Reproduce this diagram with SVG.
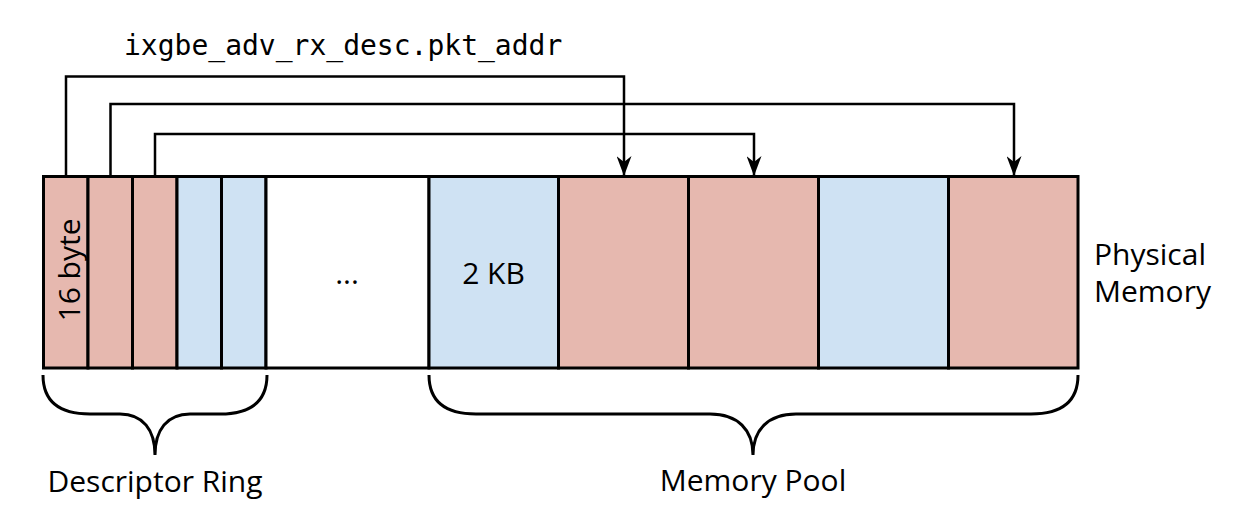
<svg xmlns="http://www.w3.org/2000/svg" width="1242" height="524" viewBox="0 0 1242 524">
<style>
.cell{stroke:#000;stroke-width:3}
.pink{fill:#e6b8af}
.blue{fill:#cfe2f3}
.white{fill:#fff}
.lbl{font-family:"Open Sans","Noto Sans","DejaVu Sans",sans-serif;font-size:30px;fill:#000}
.mono{font-family:"DejaVu Sans Mono","Liberation Mono",monospace;font-size:28px;fill:#000}
.conn{fill:none;stroke:#000;stroke-width:2.5}
.brace{fill:none;stroke:#000;stroke-width:3}
</style>
<defs>
<marker id="arr" viewBox="0 0 20 15" refX="20" refY="7.5" markerWidth="20" markerHeight="15" markerUnits="userSpaceOnUse" orient="auto">
<path d="M0,0 L20,7.5 L0,15 L6,7.5 Z" fill="#000"/>
</marker>
</defs>
<rect width="1242" height="524" fill="#fff"/>
<g id="descriptor-ring">
<rect id="desc1" class="cell pink" x="43.5" y="176.5" width="44.5" height="191.5"/>
<rect id="desc2" class="cell pink" x="88" y="176.5" width="44.5" height="191.5"/>
<rect id="desc3" class="cell pink" x="132.5" y="176.5" width="44.5" height="191.5"/>
<rect id="desc4" class="cell blue" x="177" y="176.5" width="44.5" height="191.5"/>
<rect id="desc5" class="cell blue" x="221.5" y="176.5" width="44.5" height="191.5"/>
<text class="lbl" transform="translate(79.5,270) rotate(-90)" text-anchor="middle">16 byte</text>
</g>
<g id="gap">
<rect class="cell white" x="266" y="176.5" width="163" height="191.5"/>
<text class="lbl" x="347" y="284" text-anchor="middle">...</text>
</g>
<g id="memory-pool">
<rect id="buf1" class="cell blue" x="429" y="176.5" width="129.5" height="191.5"/>
<rect id="buf2" class="cell pink" x="558.5" y="176.5" width="130" height="191.5"/>
<rect id="buf3" class="cell pink" x="688.5" y="176.5" width="130" height="191.5"/>
<rect id="buf4" class="cell blue" x="818.5" y="176.5" width="130" height="191.5"/>
<rect id="buf5" class="cell pink" x="948.5" y="176.5" width="129.5" height="191.5"/>
<text class="lbl" x="493.5" y="284" text-anchor="middle">2 KB</text>
</g>
<g id="connectors">
<path class="conn" d="M66,176 V76.5 H624 V176" marker-end="url(#arr)"/>
<path class="conn" d="M110.5,176 V104 H1014 V176" marker-end="url(#arr)"/>
<path class="conn" d="M155,176 V134 H754 V176" marker-end="url(#arr)"/>
<text class="mono" x="124" y="55">ixgbe_adv_rx_desc.pkt_addr</text>
</g>
<g id="braces">
<path class="brace" d="M43,375 C43,402 60,414 90,414 L120,414 C143,414 155,430 155,455 C155,430 167,414 190,414 L220,414 C250,414 267,402 267,375"/>
<path class="brace" d="M429,375 C429,402 446,414 476,414 L710,414 C738,414 753,430 753,455 C753,430 768,414 796,414 L1031,414 C1061,414 1078,402 1078,375"/>
<text class="lbl" x="155" y="492" text-anchor="middle">Descriptor Ring</text>
<text class="lbl" x="753" y="491" text-anchor="middle">Memory Pool</text>
</g>
<g id="physical-memory">
<text class="lbl" x="1094" y="265">Physical</text>
<text class="lbl" x="1094" y="302">Memory</text>
</g>
</svg>
